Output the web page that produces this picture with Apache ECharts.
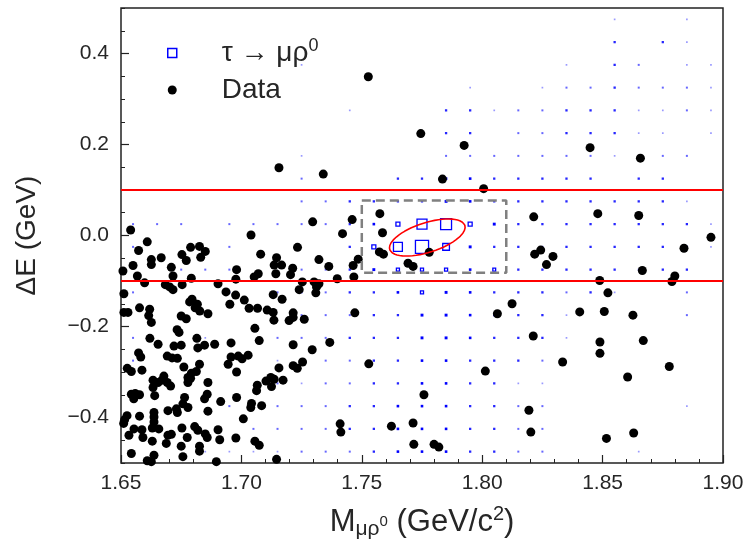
<!DOCTYPE html>
<html>
<head>
<meta charset="utf-8">
<script src="https://cdn.jsdelivr.net/npm/echarts/dist/echarts.min.js"></script>
<style>html,body{margin:0;padding:0;background:#fff;}#c{width:752px;height:545px;}</style>
</head>
<body>
<div id="c"></div>
<script>
// ---------- data ----------
const xRange = [1.65, 1.90];
const yRange = [-0.5, 0.5];
const yTickValues = [-0.4, -0.2, 0.0, 0.2, 0.4];
const cutLines = [0.1, -0.1];
const signalBox = [1.75, 1.81, -0.082, 0.077]; // xmin, xmax, ymin, ymax
const ellipseCenter = [1.7772, -0.0044];
const ellipseAxisU = [0.0156, 0.0265];
const ellipseAxisV = [0.0019, -0.031];

// MC signal (tau -> mu rho0) box histogram
const mcX = [1.655,1.665,1.675,1.685,1.695,1.705,1.715,1.725,1.735,1.745,1.755,1.765,1.775,1.785,1.795,1.805,1.815,1.825,1.835,1.845,1.855,1.865,1.875,1.885,1.895];
const mcY = [0.475,0.425,0.375,0.325,0.275,0.225,0.175,0.125,0.075,0.025,-0.025,-0.075,-0.125,-0.175,-0.225,-0.275,-0.325,-0.375,-0.425,-0.475];
const mcCounts = [
 [0,0,0,0,0,0,0,0,0,0,0,0,0,0,0,0,0,0,0,0,1,0,0,1,0],
 [0,0,0,0,0,0,0,0,0,0,0,0,0,0,0,0,0,0,0,0,3,0,3,1,0],
 [0,0,0,0,0,0,0,1,0,0,0,0,0,0,0,0,0,0,1,0,3,2,0,1,1],
 [0,0,0,0,0,0,0,0,0,0,0,0,0,0,1,0,0,1,2,2,3,2,2,2,1],
 [0,0,0,0,0,0,0,0,0,1,0,0,0,3,3,1,2,2,3,3,3,1,1,2,1],
 [0,0,0,0,0,0,0,0,0,0,0,0,0,3,3,0,2,2,3,3,3,1,1,0,1],
 [0,0,0,0,0,0,0,1,0,0,0,0,0,2,2,2,2,2,2,2,1,2,2,2,0],
 [0,0,0,0,0,0,0,2,0,0,0,3,3,4,4,3,3,3,3,3,0,3,3,0,0],
 [0,0,0,0,0,0,0,2,2,3,3,3,3,5,4,3,3,3,3,3,3,3,3,1,0],
 [2,2,2,0,2,2,2,2,2,3,4,12,75,90,12,5,3,3,3,3,3,3,3,3,1],
 [2,0,0,0,2,0,0,0,0,3,12,60,130,34,5,3,3,2,3,3,3,3,3,3,1],
 [0,0,2,2,2,0,0,2,2,3,5,7,7,7,4,6,3,3,3,3,3,2,3,3,0],
 [2,0,0,0,2,0,2,2,2,3,3,4,7,5,4,3,3,3,2,3,1,0,0,2,0],
 [0,0,0,0,0,0,0,2,2,2,3,3,5,5,4,3,3,3,1,0,0,0,0,2,0],
 [2,0,0,1,0,0,2,2,2,3,3,3,5,5,4,3,3,3,1,0,0,0,0,0,0],
 [2,0,0,0,0,0,1,1,2,2,3,3,4,4,3,3,3,2,0,0,0,0,0,0,0],
 [0,0,0,0,0,0,2,1,2,2,3,3,4,4,3,3,1,1,0,0,0,0,0,0,0],
 [0,0,0,0,2,1,2,2,2,3,3,4,4,4,3,3,2,2,0,0,0,0,0,1,0],
 [0,0,0,0,0,2,2,2,2,3,3,4,4,4,3,3,2,2,0,0,0,0,0,0,0],
 [0,0,0,1,1,1,1,2,2,2,3,4,4,4,3,3,2,2,0,0,0,1,0,0,0]
];

// Data points: mass (GeV/c^2)
const dataM = [
1.7527,1.7745,1.7156,1.734,1.7925,1.8448,1.8657,1.7835,1.8006,1.8214,1.848,1.865,1.895,1.654,1.704,1.7296,1.746,1.742,1.7575,1.7586,
1.778,1.8218,1.8243,1.8294,1.8267,1.8838,1.8665,1.880,1.8788,1.8488,1.8522,1.8124,1.8063,1.8405,1.8507,1.8626,1.8212,1.8489,1.8489,1.8669,
1.8334,1.8013,1.8777,1.8604,1.8194,1.8202,1.8516,1.8629,1.780,1.782,1.7573,1.759,1.7464,1.7485,1.7398,1.7467,1.7692,1.7713,1.7363,1.7322,
1.7471,1.7367,1.7294,1.7529,1.7758,1.741,1.7413,1.7623,1.7713,1.7716,
1.7233,1.708,1.7146,1.7136,1.7167,1.7213,1.7204,1.7143,1.698,1.6977,1.707,1.7053,1.7253,1.7302,1.7322,1.7312,1.7309,1.724,1.6936,1.6976,
1.6952,1.7012,1.7132,1.7169,1.7032,1.7067,1.7107,1.7132,1.7215,1.7215,1.7198,1.7135,1.7261,1.7056,1.6957,1.7074,1.7215,
1.6957,1.6987,1.7003,1.7028,1.6945,1.698,1.7156,1.7215,1.7232,1.7254,1.7066,1.7063,1.7102,1.7122,1.7136,1.7125,1.7173,1.698,1.7042,1.7039,
1.7084,1.7008,1.6977,1.7056,1.7074,1.7146,
1.6609,1.6573,1.6789,1.6826,1.685,1.6831,1.6753,1.6771,1.6667,1.6626,1.6626,1.655,1.6709,1.6508,1.6568,1.6716,1.6792,1.6598,1.6684,1.6702,
1.6716,1.6754,1.6903,1.6512,1.6785,1.6795,1.6817,1.6808,1.6827,1.6861,1.6577,1.6619,1.6615,1.6626,1.6512,1.6529,1.675,1.6771,1.6733,1.6741,
1.6815,1.662,1.6654,1.675,1.6847,1.6889,
1.672,1.6819,1.6573,1.6582,1.6692,1.6712,1.6734,1.6826,1.6526,1.6543,1.6587,1.6761,1.6792,1.6813,1.6778,1.6678,1.6633,1.6654,1.667,1.6692,
1.6706,1.6778,1.6789,1.6861,1.6633,1.6543,1.6559,1.6577,1.6553,1.664,1.6764,1.6858,1.6847,1.6914,1.6757,1.6778,1.6695,1.673,1.6734,1.6861,
1.6637,1.6637,1.6577,1.6515,1.6525,1.6511,1.6637,1.663,1.6657,1.6554,1.6587,1.6753,1.6806,1.6819,1.6903,1.6533,1.6591,1.6709,1.6695,1.685,
1.6858,1.6775,1.691,1.6688,1.675,1.6826,1.6826,1.663,1.6543,1.6757,1.6609,1.6626,1.6896,1.6637
];
// Data points: Delta E (GeV)
const dataDE = [
0.349,0.224,0.149,0.135,0.198,0.193,0.170,0.124,0.103,0.041,0.048,0.044,-0.004,0.012,0.001,0.030,0.035,0.004,0.048,0.006,
-0.037,-0.041,-0.032,-0.046,-0.064,-0.028,-0.077,-0.089,-0.101,-0.099,-0.126,-0.150,-0.172,-0.168,-0.167,-0.175,-0.221,-0.234,-0.259,-0.231,
-0.278,-0.298,-0.288,-0.311,-0.384,-0.432,-0.446,-0.434,-0.459,-0.465,-0.036,-0.041,-0.066,-0.052,-0.095,-0.091,-0.061,-0.068,-0.068,-0.053,
-0.170,-0.235,-0.251,-0.282,-0.350,-0.414,-0.432,-0.419,-0.412,-0.459,
-0.026,-0.041,-0.049,-0.065,-0.065,-0.072,-0.086,-0.084,-0.075,-0.096,-0.084,-0.091,-0.102,-0.102,-0.106,-0.113,-0.126,-0.119,-0.124,-0.131,
-0.151,-0.142,-0.130,-0.140,-0.160,-0.160,-0.164,-0.169,-0.170,-0.180,-0.187,-0.186,-0.184,-0.204,-0.236,-0.231,-0.240,
-0.267,-0.265,-0.271,-0.263,-0.283,-0.300,-0.291,-0.286,-0.292,-0.278,-0.329,-0.341,-0.320,-0.312,-0.316,-0.332,-0.318,-0.356,-0.369,-0.378,
-0.374,-0.403,-0.445,-0.452,-0.461,-0.492,
-0.014,-0.033,-0.026,-0.024,-0.035,-0.048,-0.042,-0.055,-0.049,-0.053,-0.064,-0.066,-0.070,-0.078,-0.089,-0.089,-0.094,-0.104,-0.108,-0.113,
-0.119,-0.108,-0.106,-0.128,-0.146,-0.140,-0.151,-0.159,-0.166,-0.172,-0.159,-0.162,-0.176,-0.191,-0.169,-0.169,-0.177,-0.183,-0.207,-0.213,
-0.226,-0.226,-0.239,-0.241,-0.241,-0.239,
-0.243,-0.247,-0.258,-0.267,-0.265,-0.269,-0.270,-0.283,-0.292,-0.299,-0.296,-0.289,-0.303,-0.299,-0.312,-0.309,-0.318,-0.323,-0.318,-0.323,
-0.331,-0.323,-0.314,-0.323,-0.334,-0.349,-0.347,-0.350,-0.359,-0.352,-0.356,-0.349,-0.359,-0.365,-0.370,-0.378,-0.385,-0.381,-0.389,-0.386,
-0.389,-0.399,-0.397,-0.405,-0.396,-0.413,-0.410,-0.423,-0.425,-0.425,-0.427,-0.423,-0.420,-0.428,-0.427,-0.439,-0.444,-0.437,-0.439,-0.436,
-0.444,-0.444,-0.449,-0.457,-0.463,-0.463,-0.474,-0.452,-0.479,-0.486,-0.495,-0.497,-0.497,-0.483
];

const legendMC = 'τ → μρ0';
const legendData = 'Data';

// ---------- build ----------
const FONT = '"Liberation Sans", Arial, sans-serif';
const TXT = '#262626';
const BLUE = '#0000ff';
const mcPoints = [];
mcCounts.forEach((row, j) => row.forEach((c, i) => {
  if (c <= 0) return;
  if (c <= 5) {
    const op = c <= 1 ? 0.4 : (c === 2 ? 0.6 : (c === 3 ? 0.85 : 1));
    mcPoints.push({ value: [mcX[i], mcY[j], c], symbolSize: 1.4 + 0.3 * c,
      itemStyle: { color: BLUE, borderWidth: 0, opacity: op } });
  } else {
    mcPoints.push({ value: [mcX[i], mcY[j], c], symbolSize: 1.15 * Math.sqrt(c),
      itemStyle: { color: 'rgba(0,0,0,0)', borderColor: BLUE, borderWidth: 1.3, opacity: 1 } });
  }
}));
const dataPoints = dataM.map((m, k) => [m, dataDE[k]]);
const ellipsePts = [];
for (let k = 0; k <= 120; k++) {
  const t = 2 * Math.PI * k / 120;
  ellipsePts.push([ellipseCenter[0] + ellipseAxisU[0] * Math.cos(t) + ellipseAxisV[0] * Math.sin(t),
                   ellipseCenter[1] + ellipseAxisU[1] * Math.cos(t) + ellipseAxisV[1] * Math.sin(t)]);
}
const boxPts = [[signalBox[0], signalBox[3]], [signalBox[1], signalBox[3]], [signalBox[1], signalBox[2]],
                [signalBox[0], signalBox[2]], [signalBox[0], signalBox[3]]];
const fmtY = v => (Math.abs(v) < 1e-9 ? '0.0' : v.toFixed(1).replace('-', '\u2212'));

const chart = echarts.init(document.getElementById('c'), null, { renderer: 'canvas' });
chart.setOption({
  animation: false,
  backgroundColor: '#fff',
  grid: { left: 121, right: 29, top: 8, bottom: 77, show: true, borderColor: '#222', borderWidth: 1.5, backgroundColor: 'transparent' },
  legend: {
    orient: 'vertical', left: 162, top: 32, itemWidth: 9, itemHeight: 9, itemGap: 9,
    data: [
      { name: legendMC, icon: 'rect', itemStyle: { color: '#fff', borderColor: BLUE, borderWidth: 1.5, opacity: 1 } },
      { name: legendData, icon: 'circle', itemStyle: { color: '#000', opacity: 1 } }
    ],
    formatter: n => n === legendMC ? '{a|τ → μρ}{b|0}' : '{a|' + n + '}',
    textStyle: {
      padding: [0, 0, 0, 40],
      rich: {
        a: { fontSize: 28, fontFamily: FONT, color: TXT, lineHeight: 32 },
        b: { fontSize: 18, fontFamily: FONT, color: TXT, lineHeight: 18, verticalAlign: 'top' }
      }
    }
  },
  xAxis: {
    type: 'value', min: xRange[0], max: xRange[1], interval: 0.05,
    axisLine: { show: false, onZero: false },
    axisTick: { inside: true, length: 8, lineStyle: { color: '#222', width: 1.2 } },
    minorTick: { show: true, splitNumber: 5, length: 4, lineStyle: { color: '#222', width: 1 } },
    splitLine: { show: false },
    axisLabel: { formatter: v => v.toFixed(2), fontSize: 21, fontFamily: FONT, color: TXT, margin: 10 },
    name: '{m|M}{s|μρ}{t|0}{m| (GeV/c}{p|2}{m|)}',
    nameLocation: 'middle', nameGap: 41,
    nameTextStyle: {
      rich: {
        m: { fontSize: 31, fontFamily: FONT, color: TXT, lineHeight: 36 },
        s: { fontSize: 21, fontFamily: FONT, color: TXT, lineHeight: 17, verticalAlign: 'bottom' },
        t: { fontSize: 15, fontFamily: FONT, color: TXT, lineHeight: 15, verticalAlign: 'middle' },
        p: { fontSize: 20, fontFamily: FONT, color: TXT, lineHeight: 20, verticalAlign: 'top' }
      }
    }
  },
  yAxis: [
    {
      type: 'value', min: yRange[0], max: yRange[1], interval: 0.05,
      axisLine: { show: false, onZero: false }, splitLine: { show: false },
      axisTick: { inside: true, length: 4, lineStyle: { color: '#222', width: 1 } },
      axisLabel: { show: false }
    },
    {
      type: 'value', min: yRange[0], max: yRange[1], position: 'left', offset: 0,
      axisLine: { show: false, onZero: false }, splitLine: { show: false },
      axisTick: { inside: true, length: 8, customValues: yTickValues, lineStyle: { color: '#222', width: 1.2 } },
      axisLabel: { customValues: yTickValues, formatter: fmtY, fontSize: 21, fontFamily: FONT, color: TXT, margin: 12 },
      name: 'ΔE (GeV)', nameLocation: 'middle', nameGap: 80,
      nameTextStyle: { fontSize: 28, fontFamily: FONT, color: TXT }
    }
  ],
  series: [
    {
      name: legendMC, type: 'scatter', yAxisIndex: 0, z: 2, silent: true,
      symbol: 'rect',
      itemStyle: { color: 'rgba(0,0,0,0)', borderColor: BLUE, borderWidth: 1.3, opacity: 1 },
      data: mcPoints
    },
    {
      name: legendData, type: 'scatter', yAxisIndex: 0, z: 3, silent: true,
      symbol: 'circle', symbolSize: 9,
      itemStyle: { color: '#000', opacity: 1 },
      data: dataPoints,
      markLine: {
        silent: true, symbol: 'none', label: { show: false },
        lineStyle: { color: '#ff0000', width: 2, type: 'solid', opacity: 1 },
        data: cutLines.map(v => ({ yAxis: v }))
      }
    },
    {
      type: 'line', yAxisIndex: 0, z: 4, silent: true, showSymbol: false, symbol: 'none',
      lineStyle: { color: '#808080', width: 2.5, type: [9, 5] },
      data: boxPts
    },
    {
      type: 'line', yAxisIndex: 0, z: 5, silent: true, showSymbol: false, symbol: 'none', smooth: false,
      lineStyle: { color: '#ff0000', width: 1.6 },
      data: ellipsePts
    }
  ]
});
</script>
</body>
</html>
